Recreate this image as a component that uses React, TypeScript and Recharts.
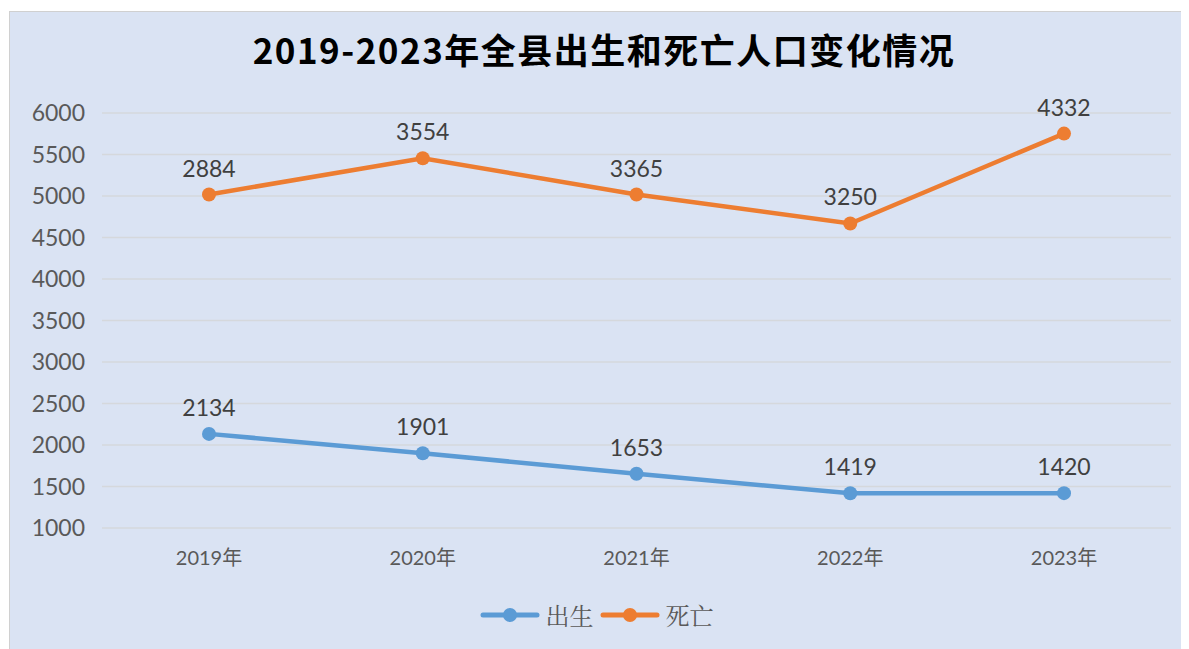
import React from "react";
import { ComposedChart, Area, XAxis, YAxis, CartesianGrid, Legend } from "recharts";

// Stacked line chart: the 死亡 line sits on top of 出生
const years = ["2019年", "2020年", "2021年", "2022年", "2023年"];
const births = [2134, 1901, 1653, 1419, 1420];
const deaths = [2884, 3554, 3365, 3250, 4332];
const yTicks = [1000, 1500, 2000, 2500, 3000, 3500, 4000, 4500, 5000, 5500, 6000];

const COLORS = {
  births: "#5b9bd5",
  deaths: "#ed7d31",
  bg: "#dae3f3",
  grid: "#d5d8dc",
  axisText: "#595959",
  labelText: "#404040",
};

const NUM_FONT = "Lato, 'Noto Sans CJK SC', sans-serif";

const chartData = years.map((y, i) => ({ year: y, births: births[i], deaths: deaths[i] }));

const makeLabel = (values: number[]) => (props: any) => {
  const { x, y, index } = props;
  return (
    <text x={x} y={y - 18} textAnchor="middle" fontSize={23} fill={COLORS.labelText} fontFamily={NUM_FONT}>
      {values[index]}
    </text>
  );
};

const LegendContent = () => {
  const items = [
    { name: "出生", color: COLORS.births },
    { name: "死亡", color: COLORS.deaths },
  ];
  return (
    <div style={{ display: "flex", justifyContent: "center", alignItems: "center", gap: 6 }}>
      {items.map((it) => (
        <div key={it.name} style={{ display: "flex", alignItems: "center" }}>
          <svg width={60} height={20}>
            <line x1={3} y1={10} x2={57} y2={10} stroke={it.color} strokeWidth={5} strokeLinecap="round" />
            <circle cx={30} cy={10} r={7} fill={it.color} />
          </svg>
          <span style={{ fontSize: 24, color: COLORS.axisText, fontFamily: "'Noto Serif CJK SC', 'Noto Sans CJK SC', serif", marginLeft: 6 }}>
            {it.name}
          </span>
        </div>
      ))}
    </div>
  );
};

export default function App() {
  return (
    <div
      style={{
        position: "relative",
        marginLeft: 1,
        marginTop: 3,
        width: 1180,
        height: 638,
        background: COLORS.bg,
        borderTop: "1px solid #d0d0d0",
        borderLeft: "1px solid #d0d0d0",
        boxSizing: "border-box",
      }}
    >
      <div
        style={{
          position: "absolute",
          top: 11,
          left: 0,
          width: 1188,
          textAlign: "center",
          fontSize: 35,
          fontWeight: 700,
          fontFamily: "'Noto Sans CJK SC', sans-serif",
          color: "#000",
          letterSpacing: 1.5,
        }}
      >
        2019-2023年全县出生和死亡人口变化情况
      </div>
      <ComposedChart
        width={1180}
        height={638}
        data={chartData}
        margin={{ top: 101, right: 19, left: 12, bottom: 3 }}
      >
        <CartesianGrid vertical={false} stroke={COLORS.grid} strokeWidth={1.5} />
        <XAxis
          dataKey="year"
          axisLine={false}
          tickLine={false}
          height={69}
          tickMargin={17}
          padding={{ left: 107, right: 107 }}
          tick={{ fontSize: 20, fill: COLORS.axisText, fontFamily: NUM_FONT }}
        />
        <YAxis
          domain={[1000, 6000]}
          ticks={yTicks}
          allowDataOverflow
          axisLine={false}
          tickLine={false}
          width={80}
          tickMargin={11}
          tick={{ fontSize: 23, fill: COLORS.axisText, fontFamily: NUM_FONT }}
        />
        <Legend verticalAlign="bottom" height={50} content={<LegendContent />} />
        <Area
          type="linear"
          dataKey="births"
          name="出生"
          stackId="a"
          stroke={COLORS.births}
          strokeWidth={4.5}
          fill="none"
          dot={{ r: 7, fill: COLORS.births, fillOpacity: 1, stroke: COLORS.births, strokeWidth: 0 }}
          activeDot={false}
          label={makeLabel(births)}
          isAnimationActive={false}
        />
        <Area
          type="linear"
          dataKey="deaths"
          name="死亡"
          stackId="a"
          stroke={COLORS.deaths}
          strokeWidth={4.5}
          fill="none"
          dot={{ r: 7, fill: COLORS.deaths, fillOpacity: 1, stroke: COLORS.deaths, strokeWidth: 0 }}
          activeDot={false}
          label={makeLabel(deaths)}
          isAnimationActive={false}
        />
      </ComposedChart>
    </div>
  );
}
